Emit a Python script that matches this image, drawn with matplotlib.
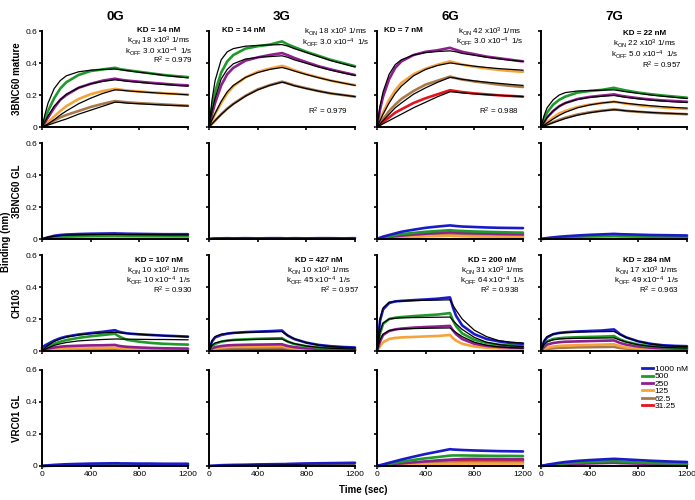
import matplotlib
matplotlib.use('Agg')
import matplotlib.pyplot as plt

plt.rcParams['font.family'] = ['Liberation Sans', 'DejaVu Sans']
plt.rcParams['mathtext.default'] = 'regular'

# sample times (sec), shared by every trace
T = [0, 25, 50, 100, 150, 200, 300, 400, 500, 600, 625, 650, 700, 800, 900, 1000, 1100, 1200]

conc_labels = ['1000 nM', '500', '250', '125', '62.5', '31.25']
conc_colors = ['#1a1ac8', '#1f9a2a', '#8e1f8e', '#f5a43c', '#a8794a', '#e3141c']

col_titles = ['0G', '3G', '6G', '7G']
row_titles = ['3BNC60 mature', '3BNC60 GL', 'CH103', 'VRC01 GL']

# ---- 3BNC60 mature ----
mature_0g = {
    '500':  [0, 0.05, 0.10, 0.18, 0.24, 0.28, 0.325, 0.35, 0.36, 0.37, 0.365, 0.36, 0.355, 0.345, 0.335, 0.325, 0.318, 0.312],
    '250':  [0, 0.03, 0.06, 0.12, 0.17, 0.20, 0.245, 0.27, 0.29, 0.302, 0.298, 0.295, 0.29, 0.283, 0.276, 0.27, 0.264, 0.26],
    '125':  [0, 0.015, 0.03, 0.065, 0.10, 0.13, 0.175, 0.205, 0.225, 0.238, 0.236, 0.233, 0.228, 0.222, 0.216, 0.211, 0.207, 0.203],
    '62.5': [0, 0.01, 0.02, 0.04, 0.06, 0.075, 0.10, 0.125, 0.145, 0.162, 0.16, 0.158, 0.154, 0.149, 0.145, 0.141, 0.137, 0.133],
}
mature_0g_fit = [
    [0, 0.08, 0.15, 0.24, 0.29, 0.32, 0.345, 0.355, 0.36, 0.362, 0.36, 0.358, 0.352, 0.342, 0.333, 0.323, 0.315, 0.307],
    [0, 0.035, 0.07, 0.13, 0.17, 0.205, 0.245, 0.27, 0.285, 0.295, 0.293, 0.291, 0.286, 0.279, 0.272, 0.266, 0.26, 0.255],
    [0, 0.01, 0.02, 0.045, 0.075, 0.10, 0.145, 0.18, 0.21, 0.232, 0.231, 0.23, 0.226, 0.22, 0.215, 0.21, 0.206, 0.201],
    [0, 0.006, 0.012, 0.025, 0.038, 0.05, 0.08, 0.105, 0.13, 0.155, 0.154, 0.153, 0.149, 0.145, 0.141, 0.137, 0.134, 0.131],
]
mature_3g = {
    '500':  [0, 0.12, 0.22, 0.34, 0.41, 0.45, 0.49, 0.505, 0.515, 0.535, 0.525, 0.515, 0.50, 0.47, 0.445, 0.42, 0.40, 0.38],
    '250':  [0, 0.08, 0.15, 0.26, 0.33, 0.37, 0.415, 0.435, 0.45, 0.462, 0.455, 0.448, 0.432, 0.405, 0.38, 0.36, 0.342, 0.325],
    '125':  [0, 0.04, 0.08, 0.15, 0.21, 0.255, 0.31, 0.345, 0.365, 0.382, 0.377, 0.37, 0.355, 0.33, 0.31, 0.29, 0.275, 0.262],
    '62.5': [0, 0.02, 0.04, 0.08, 0.115, 0.145, 0.195, 0.235, 0.262, 0.283, 0.278, 0.272, 0.26, 0.242, 0.225, 0.21, 0.20, 0.19],
}
mature_3g_fit = [
    [0, 0.17, 0.29, 0.42, 0.47, 0.49, 0.505, 0.51, 0.513, 0.515, 0.51, 0.505, 0.49, 0.465, 0.44, 0.415, 0.395, 0.375],
    [0, 0.10, 0.18, 0.30, 0.36, 0.395, 0.425, 0.435, 0.44, 0.445, 0.44, 0.435, 0.42, 0.398, 0.375, 0.355, 0.338, 0.322],
    [0, 0.045, 0.085, 0.16, 0.22, 0.26, 0.31, 0.34, 0.36, 0.372, 0.367, 0.362, 0.35, 0.328, 0.308, 0.29, 0.275, 0.26],
    [0, 0.02, 0.04, 0.078, 0.113, 0.143, 0.193, 0.232, 0.26, 0.28, 0.276, 0.27, 0.258, 0.24, 0.224, 0.21, 0.20, 0.19],
]
mature_6g = {
    '250':   [0, 0.11, 0.19, 0.30, 0.37, 0.41, 0.45, 0.47, 0.48, 0.495, 0.488, 0.482, 0.47, 0.455, 0.44, 0.43, 0.42, 0.41],
    '125':   [0, 0.05, 0.09, 0.17, 0.23, 0.275, 0.33, 0.365, 0.39, 0.41, 0.405, 0.40, 0.39, 0.377, 0.366, 0.357, 0.35, 0.345],
    '62.5':  [0, 0.03, 0.05, 0.10, 0.14, 0.175, 0.225, 0.265, 0.29, 0.315, 0.31, 0.305, 0.297, 0.285, 0.275, 0.265, 0.257, 0.25],
    '31.25': [0, 0.015, 0.03, 0.06, 0.09, 0.11, 0.15, 0.18, 0.205, 0.23, 0.227, 0.224, 0.218, 0.21, 0.204, 0.198, 0.194, 0.19],
}
mature_6g_fit = [
    [0, 0.13, 0.22, 0.33, 0.39, 0.42, 0.45, 0.465, 0.472, 0.476, 0.473, 0.47, 0.46, 0.448, 0.436, 0.426, 0.417, 0.41],
    [0, 0.04, 0.08, 0.15, 0.21, 0.255, 0.32, 0.36, 0.385, 0.40, 0.398, 0.395, 0.39, 0.38, 0.372, 0.365, 0.36, 0.355],
    [0, 0.02, 0.04, 0.08, 0.12, 0.15, 0.205, 0.245, 0.28, 0.31, 0.308, 0.305, 0.298, 0.288, 0.28, 0.273, 0.266, 0.26],
    [0, 0.01, 0.02, 0.04, 0.06, 0.08, 0.12, 0.155, 0.19, 0.22, 0.219, 0.217, 0.213, 0.207, 0.202, 0.198, 0.194, 0.19],
]
mature_7g = {
    '500':  [0, 0.05, 0.09, 0.14, 0.17, 0.19, 0.215, 0.225, 0.232, 0.245, 0.24, 0.236, 0.228, 0.215, 0.205, 0.197, 0.19, 0.183],
    '250':  [0, 0.03, 0.06, 0.10, 0.13, 0.15, 0.175, 0.188, 0.196, 0.204, 0.20, 0.196, 0.19, 0.18, 0.172, 0.166, 0.162, 0.158],
    '125':  [0, 0.015, 0.03, 0.06, 0.085, 0.10, 0.125, 0.14, 0.15, 0.158, 0.155, 0.152, 0.146, 0.136, 0.128, 0.122, 0.117, 0.113],
    '62.5': [0, 0.008, 0.015, 0.03, 0.045, 0.058, 0.078, 0.092, 0.102, 0.11, 0.108, 0.106, 0.101, 0.095, 0.09, 0.086, 0.083, 0.08],
}
mature_7g_fit = [
    [0, 0.07, 0.12, 0.17, 0.20, 0.215, 0.225, 0.228, 0.23, 0.232, 0.229, 0.226, 0.22, 0.21, 0.20, 0.192, 0.185, 0.178],
    [0, 0.03, 0.06, 0.10, 0.13, 0.15, 0.172, 0.185, 0.192, 0.197, 0.194, 0.191, 0.185, 0.176, 0.168, 0.162, 0.157, 0.153],
    [0, 0.012, 0.025, 0.05, 0.073, 0.092, 0.12, 0.138, 0.15, 0.158, 0.156, 0.153, 0.148, 0.14, 0.133, 0.127, 0.122, 0.118],
    [0, 0.006, 0.013, 0.027, 0.04, 0.053, 0.074, 0.089, 0.10, 0.108, 0.107, 0.105, 0.101, 0.096, 0.091, 0.087, 0.084, 0.081],
]

# ---- 3BNC60 GL ----
gl_0g = {
    '1000 nM': [0, 0.005, 0.01, 0.02, 0.025, 0.028, 0.031, 0.033, 0.034, 0.035, 0.034, 0.034, 0.033, 0.032, 0.031, 0.03, 0.03, 0.03],
    '500':     [0, 0.003, 0.006, 0.01, 0.013, 0.015, 0.018, 0.02, 0.021, 0.022, 0.021, 0.021, 0.02, 0.02, 0.019, 0.019, 0.018, 0.018],
    '125':     [0, 0.002, 0.003, 0.005, 0.007, 0.008, 0.01, 0.011, 0.012, 0.013, 0.012, 0.012, 0.012, 0.011, 0.011, 0.011, 0.01, 0.01],
}
gl_0g_fit = [
    [0, 0.006, 0.012, 0.018, 0.022, 0.024, 0.026, 0.027, 0.028, 0.028, 0.028, 0.028, 0.027, 0.027, 0.027, 0.026, 0.026, 0.026],
]
gl_3g = {
    '1000 nM': [0, 0.003, 0.004, 0.004, 0.005, 0.004, 0.005, 0.004, 0.005, 0.005, 0.004, 0.004, 0.005, 0.004, 0.005, 0.005, 0.004, 0.005],
}
gl_6g = {
    '1000 nM': [0, 0.008, 0.015, 0.025, 0.035, 0.045, 0.058, 0.07, 0.078, 0.085, 0.083, 0.081, 0.078, 0.075, 0.072, 0.07, 0.069, 0.068],
    '500':     [0, 0.005, 0.01, 0.017, 0.024, 0.03, 0.038, 0.045, 0.05, 0.055, 0.053, 0.052, 0.05, 0.047, 0.045, 0.043, 0.041, 0.04],
    '250':     [0, 0.004, 0.007, 0.012, 0.017, 0.021, 0.028, 0.033, 0.038, 0.042, 0.041, 0.04, 0.038, 0.036, 0.034, 0.032, 0.031, 0.03],
    '125':     [0, 0.002, 0.003, 0.006, 0.008, 0.01, 0.013, 0.016, 0.018, 0.02, 0.019, 0.018, 0.017, 0.015, 0.014, 0.013, 0.012, 0.011],
    '62.5':    [0, 0.003, 0.005, 0.009, 0.012, 0.015, 0.02, 0.024, 0.027, 0.03, 0.029, 0.028, 0.027, 0.025, 0.023, 0.022, 0.021, 0.02],
}
gl_7g = {
    '1000 nM': [0, 0.003, 0.006, 0.01, 0.014, 0.017, 0.022, 0.026, 0.029, 0.032, 0.031, 0.03, 0.029, 0.027, 0.025, 0.024, 0.023, 0.022],
    '500':     [0, 0.002, 0.004, 0.007, 0.009, 0.011, 0.014, 0.016, 0.018, 0.02, 0.019, 0.018, 0.017, 0.015, 0.014, 0.013, 0.012, 0.012],
    '125':     [0, 0.001, 0.002, 0.003, 0.004, 0.005, 0.007, 0.008, 0.009, 0.01, 0.009, 0.009, 0.008, 0.007, 0.006, 0.006, 0.005, 0.005],
}

# ---- CH103 ----
ch_0g = {
    '1000 nM': [0.02, 0.035, 0.045, 0.065, 0.08, 0.09, 0.103, 0.112, 0.12, 0.13, 0.122, 0.117, 0.11, 0.104, 0.10, 0.096, 0.093, 0.09],
    '500':     [0.01, 0.02, 0.03, 0.045, 0.058, 0.068, 0.082, 0.092, 0.10, 0.108, 0.095, 0.085, 0.07, 0.058, 0.05, 0.045, 0.042, 0.04],
    '250':     [0, 0.01, 0.015, 0.022, 0.027, 0.03, 0.033, 0.035, 0.036, 0.038, 0.033, 0.03, 0.026, 0.022, 0.019, 0.017, 0.016, 0.015],
    '125':     [0, 0.005, 0.008, 0.012, 0.014, 0.016, 0.018, 0.019, 0.02, 0.021, 0.019, 0.017, 0.015, 0.013, 0.012, 0.011, 0.011, 0.01],
    '62.5':    [0, 0.004, 0.006, 0.009, 0.011, 0.012, 0.013, 0.014, 0.015, 0.016, 0.014, 0.013, 0.012, 0.01, 0.009, 0.009, 0.008, 0.008],
    '31.25':   [0, 0.002, 0.004, 0.006, 0.007, 0.008, 0.009, 0.01, 0.01, 0.011, 0.01, 0.009, 0.008, 0.007, 0.007, 0.006, 0.006, 0.006],
}
ch_0g_fit = [
    [0, 0.02, 0.035, 0.06, 0.075, 0.087, 0.10, 0.108, 0.113, 0.117, 0.115, 0.113, 0.11, 0.105, 0.10, 0.096, 0.092, 0.088],
    [0, 0.01, 0.02, 0.035, 0.045, 0.053, 0.063, 0.068, 0.072, 0.075, 0.075, 0.074, 0.074, 0.073, 0.072, 0.072, 0.071, 0.07],
]
ch_3g = {
    '1000 nM': [0, 0.06, 0.085, 0.10, 0.108, 0.113, 0.118, 0.121, 0.124, 0.128, 0.11, 0.095, 0.075, 0.052, 0.038, 0.03, 0.025, 0.022],
    '500':     [0, 0.03, 0.045, 0.058, 0.065, 0.069, 0.073, 0.076, 0.078, 0.08, 0.068, 0.058, 0.044, 0.03, 0.022, 0.018, 0.015, 0.013],
    '250':     [0, 0.015, 0.024, 0.031, 0.035, 0.037, 0.039, 0.04, 0.041, 0.042, 0.036, 0.031, 0.024, 0.017, 0.013, 0.011, 0.01, 0.009],
    '125':     [0, 0.01, 0.016, 0.022, 0.025, 0.027, 0.028, 0.029, 0.03, 0.031, 0.026, 0.022, 0.017, 0.012, 0.009, 0.008, 0.007, 0.007],
    '62.5':    [0, 0.007, 0.011, 0.015, 0.017, 0.018, 0.019, 0.02, 0.021, 0.022, 0.019, 0.016, 0.012, 0.009, 0.007, 0.006, 0.005, 0.005],
    '31.25':   [0, 0.004, 0.006, 0.008, 0.009, 0.01, 0.01, 0.011, 0.011, 0.012, 0.01, 0.009, 0.007, 0.005, 0.004, 0.004, 0.003, 0.003],
}
ch_3g_fit = [
    [0, 0.065, 0.09, 0.105, 0.11, 0.113, 0.116, 0.118, 0.12, 0.121, 0.108, 0.096, 0.077, 0.052, 0.037, 0.028, 0.023, 0.02],
    [0, 0.035, 0.05, 0.06, 0.065, 0.068, 0.071, 0.073, 0.074, 0.075, 0.066, 0.058, 0.046, 0.031, 0.022, 0.017, 0.014, 0.012],
]
ch_6g = {
    '1000 nM': [0, 0.19, 0.26, 0.30, 0.31, 0.313, 0.318, 0.322, 0.327, 0.335, 0.27, 0.22, 0.16, 0.105, 0.075, 0.06, 0.05, 0.045],
    '500':     [0, 0.11, 0.17, 0.20, 0.208, 0.212, 0.218, 0.223, 0.228, 0.237, 0.19, 0.155, 0.11, 0.07, 0.05, 0.04, 0.035, 0.032],
    '250':     [0, 0.06, 0.10, 0.125, 0.135, 0.14, 0.146, 0.15, 0.153, 0.157, 0.128, 0.105, 0.075, 0.045, 0.032, 0.025, 0.022, 0.02],
    '125':     [0, 0.03, 0.055, 0.075, 0.082, 0.085, 0.088, 0.091, 0.094, 0.10, 0.08, 0.065, 0.045, 0.028, 0.02, 0.016, 0.014, 0.013],
}
ch_6g_fit = [
    [0, 0.20, 0.27, 0.305, 0.31, 0.312, 0.315, 0.317, 0.318, 0.32, 0.285, 0.255, 0.20, 0.13, 0.09, 0.065, 0.055, 0.05],
    [0, 0.12, 0.175, 0.20, 0.205, 0.207, 0.209, 0.21, 0.211, 0.212, 0.19, 0.17, 0.135, 0.085, 0.055, 0.04, 0.032, 0.028],
    [0, 0.07, 0.105, 0.128, 0.134, 0.137, 0.14, 0.142, 0.143, 0.144, 0.13, 0.115, 0.09, 0.055, 0.036, 0.026, 0.021, 0.018],
]
ch_7g = {
    '1000 nM': [0, 0.06, 0.085, 0.105, 0.113, 0.117, 0.122, 0.125, 0.128, 0.135, 0.12, 0.105, 0.085, 0.06, 0.045, 0.036, 0.032, 0.03],
    '500':     [0, 0.04, 0.06, 0.075, 0.08, 0.083, 0.086, 0.088, 0.09, 0.093, 0.082, 0.072, 0.058, 0.04, 0.03, 0.024, 0.021, 0.02],
    '250':     [0, 0.025, 0.04, 0.05, 0.055, 0.058, 0.06, 0.062, 0.064, 0.066, 0.058, 0.05, 0.04, 0.028, 0.021, 0.017, 0.015, 0.014],
    '125':     [0, 0.012, 0.02, 0.028, 0.032, 0.034, 0.036, 0.038, 0.04, 0.042, 0.036, 0.03, 0.022, 0.015, 0.011, 0.009, 0.008, 0.008],
    '62.5':    [0, 0.008, 0.012, 0.017, 0.02, 0.021, 0.023, 0.024, 0.025, 0.026, 0.022, 0.019, 0.015, 0.011, 0.009, 0.008, 0.007, 0.007],
}
ch_7g_fit = [
    [0, 0.065, 0.09, 0.106, 0.112, 0.115, 0.118, 0.12, 0.121, 0.122, 0.112, 0.102, 0.085, 0.06, 0.044, 0.035, 0.03, 0.027],
    [0, 0.04, 0.058, 0.07, 0.075, 0.077, 0.079, 0.08, 0.081, 0.082, 0.075, 0.068, 0.056, 0.039, 0.029, 0.023, 0.02, 0.018],
]

# ---- VRC01 GL ----
vrc_0g = {
    '1000 nM': [0, 0.002, 0.004, 0.007, 0.009, 0.011, 0.013, 0.015, 0.016, 0.017, 0.017, 0.016, 0.016, 0.015, 0.015, 0.014, 0.014, 0.014],
    '500':     [0, 0.001, 0.002, 0.003, 0.004, 0.005, 0.006, 0.007, 0.007, 0.008, 0.007, 0.007, 0.007, 0.006, 0.006, 0.006, 0.006, 0.006],
    '31.25':   [0, 0.001, 0.001, 0.002, 0.002, 0.003, 0.003, 0.004, 0.004, 0.004, 0.005, 0.005, 0.005, 0.005, 0.005, 0.005, 0.005, 0.005],
}
vrc_3g = {
    '1000 nM': [0, 0.002, 0.003, 0.005, 0.006, 0.007, 0.008, 0.01, 0.011, 0.012, 0.012, 0.013, 0.014, 0.016, 0.017, 0.018, 0.019, 0.02],
}
vrc_3g_fit = [
    [0, 0.001, 0.002, 0.003, 0.004, 0.004, 0.005, 0.005, 0.005, 0.006, 0.006, 0.006, 0.006, 0.006, 0.006, 0.006, 0.006, 0.006],
]
vrc_6g = {
    '1000 nM': [0, 0.005, 0.01, 0.02, 0.03, 0.04, 0.058, 0.075, 0.09, 0.105, 0.103, 0.102, 0.10, 0.097, 0.095, 0.093, 0.092, 0.091],
    '500':     [0, 0.003, 0.006, 0.013, 0.02, 0.027, 0.038, 0.048, 0.056, 0.065, 0.066, 0.066, 0.066, 0.065, 0.064, 0.063, 0.063, 0.062],
    '250':     [0, 0.002, 0.004, 0.008, 0.012, 0.016, 0.023, 0.029, 0.035, 0.04, 0.041, 0.042, 0.044, 0.045, 0.044, 0.044, 0.043, 0.043],
    '125':     [0, 0.001, 0.002, 0.003, 0.005, 0.006, 0.008, 0.01, 0.012, 0.014, 0.014, 0.014, 0.015, 0.015, 0.015, 0.015, 0.015, 0.015],
    '62.5':    [0, 0.001, 0.003, 0.005, 0.008, 0.01, 0.014, 0.017, 0.02, 0.023, 0.023, 0.024, 0.024, 0.025, 0.025, 0.025, 0.025, 0.025],
    '31.25':   [0, 0.002, 0.003, 0.007, 0.01, 0.013, 0.019, 0.024, 0.029, 0.034, 0.034, 0.035, 0.035, 0.036, 0.036, 0.037, 0.037, 0.037],
}
vrc_7g = {
    '1000 nM': [0, 0.004, 0.008, 0.014, 0.02, 0.025, 0.032, 0.037, 0.041, 0.045, 0.044, 0.043, 0.041, 0.037, 0.033, 0.03, 0.027, 0.025],
    '500':     [0, 0.002, 0.005, 0.009, 0.013, 0.016, 0.021, 0.025, 0.028, 0.03, 0.029, 0.028, 0.026, 0.022, 0.019, 0.017, 0.016, 0.015],
    '250':     [0, 0.001, 0.003, 0.006, 0.008, 0.01, 0.013, 0.016, 0.018, 0.02, 0.019, 0.018, 0.017, 0.015, 0.013, 0.012, 0.011, 0.01],
}

# fitted kinetic constants
mature_kd = ['14', '14', '7', '22']
mature_kon = ['18', '18', '42', '22']
mature_koff = ['3.0', '3.0', '3.0', '5.0']
mature_r2 = ['0.979', '0.979', '0.988', '0.957']
ch103_kd = ['107', '427', '200', '284']
ch103_kon = ['10', '10', '31', '17']
ch103_koff = ['10', '45', '64', '49']
ch103_r2 = ['0.930', '0.957', '0.938', '0.963']

rows = [
    [(mature_0g, mature_0g_fit), (mature_3g, mature_3g_fit), (mature_6g, mature_6g_fit), (mature_7g, mature_7g_fit)],
    [(gl_0g, gl_0g_fit), (gl_3g, []), (gl_6g, []), (gl_7g, [])],
    [(ch_0g, ch_0g_fit), (ch_3g, ch_3g_fit), (ch_6g, ch_6g_fit), (ch_7g, ch_7g_fit)],
    [(vrc_0g, []), (vrc_3g, vrc_3g_fit), (vrc_6g, []), (vrc_7g, [])],
]

W, H = 695, 500
fig = plt.figure(figsize=(W / 100, H / 100), dpi=100)

lefts = [42, 209, 377, 541]
tops = [31, 143, 255, 370]
pw, ph = 146, 96

TS = 5.8  # annotation font size


def kin_text(ax, kd, kon, koff, r2, kd_xy, kd_ha, kin_x, kin_y, r2_xy):
    ax.text(kd_xy[0], kd_xy[1], 'KD = %s nM' % kd, transform=ax.transAxes,
            ha=kd_ha, va='center', fontsize=TS, fontweight='bold')
    ax.text(kin_x, kin_y[0], r'k$_{ON}$ %s x10$^{3}$ 1/ms' % kon, transform=ax.transAxes,
            ha='center', va='center', fontsize=TS)
    ax.text(kin_x, kin_y[1], r'k$_{OFF}$ %s x10$^{-4}$  1/s' % koff, transform=ax.transAxes,
            ha='center', va='center', fontsize=TS)
    ax.text(r2_xy[0], r2_xy[1], 'R$^{2}$ = %s' % r2, transform=ax.transAxes,
            ha='right', va='center', fontsize=TS)


axes = {}
for r in range(4):
    for c in range(4):
        ax = fig.add_axes([lefts[c] / W, 1 - (tops[r] + ph) / H, pw / W, ph / H])
        axes[(r, c)] = ax
        data, fits = rows[r][c]
        # lowest concentration first so the strongest trace sits on top
        for lab, col in reversed(list(zip(conc_labels, conc_colors))):
            if lab in data:
                ax.plot(T, data[lab], color=col, lw=1.9, clip_on=False, solid_capstyle='round')
        for f in fits:
            ax.plot(T, f, color='black', lw=0.9, clip_on=False)
        ax.set_xlim(0, 1200)
        ax.set_ylim(0, 0.6)
        ax.set_xticks([0, 400, 800, 1200])
        ax.set_yticks([0, 0.2, 0.4, 0.6])
        ax.set_xticklabels(['0', '400', '800', '1200'] if r == 3 else [])
        ax.set_yticklabels(['0', '0.2', '0.4', '0.6'] if c == 0 else [])
        for s in ['top', 'right']:
            ax.spines[s].set_visible(False)
        for s in ['left', 'bottom']:
            ax.spines[s].set_linewidth(1.4)
        ax.tick_params(direction='out', length=2.5, width=1.2, labelsize=6, pad=1)
        if r == 0:
            ax.set_title(col_titles[c], fontsize=9.5, fontweight='bold', pad=8)

# row labels
for r in range(4):
    fig.text(17 / W, 1 - (tops[r] + ph / 2) / H, row_titles[r], rotation=90,
             ha='center', va='center', fontsize=7, fontweight='bold')

# annotations, 3BNC60 mature row
kin_text(axes[(0, 0)], mature_kd[0], mature_kon[0], mature_koff[0], mature_r2[0],
         (0.80, 1.01), 'center', 0.80, (0.899, 0.784), (1.034, 0.69))
kin_text(axes[(0, 1)], mature_kd[1], mature_kon[1], mature_koff[1], mature_r2[1],
         (0.09, 1.0), 'left', 0.87, (0.99, 0.88), (0.95, 0.167))
kin_text(axes[(0, 2)], mature_kd[2], mature_kon[2], mature_koff[2], mature_r2[2],
         (0.05, 1.0), 'left', 0.774, (0.99, 0.89), (0.97, 0.167))
kin_text(axes[(0, 3)], mature_kd[3], mature_kon[3], mature_koff[3], mature_r2[3],
         (0.71, 0.976), 'center', 0.71, (0.862, 0.75), (0.966, 0.64))

# annotations, CH103 row
ch_cx = [0.80, 0.75, 0.79, 0.725]
ch_rx = [1.034, 1.035, 0.98, 0.945]
for c in range(4):
    kin_text(axes[(2, c)], ch103_kd[c], ch103_kon[c], ch103_koff[c], ch103_r2[c],
             (ch_cx[c], 0.94), 'center', ch_cx[c], (0.837, 0.73), (ch_rx[c], 0.63))

# concentration legend
ax = axes[(3, 3)]
handles = [plt.Line2D([], [], color=col, lw=2) for col in conc_colors]
ax.legend(handles, conc_labels, loc='upper left', bbox_to_anchor=(0.69, 1.05),
          frameon=False, fontsize=6, handlelength=1.4, handletextpad=0.15,
          labelspacing=-0.05, borderpad=0, borderaxespad=0)

fig.text(6 / W, 1 - 242 / H, 'Binding (nm)', rotation=90, ha='center', va='center',
         fontsize=7, fontweight='bold')
fig.text(363 / W, 1 - 490 / H, 'Time (sec)', ha='center', va='center',
         fontsize=7, fontweight='bold')

fig.savefig('out.png', dpi=100)
